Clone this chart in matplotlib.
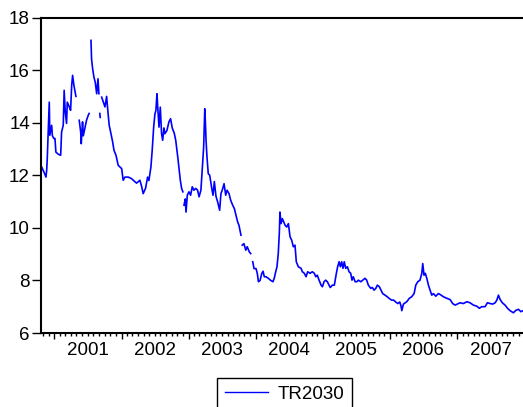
import matplotlib
matplotlib.use("Agg")
import matplotlib.pyplot as plt
import matplotlib.dates as mdates
import numpy as np
import pandas as pd

# TR2030 yield (nan = missing data)
dates = [
    "2000-10-24", "2000-11-05", "2000-11-16", "2000-11-20", "2000-11-23", "2000-12-04",
    "2000-12-07", "2000-12-17", "2000-12-21", "2000-12-29", "2001-01-04", "2001-01-09",
    "2001-01-22", "2001-02-04", "2001-02-09", "2001-02-18", "2001-02-23", "2001-03-01",
    "2001-03-08", "2001-03-12", "2001-03-23", "2001-03-30", "2001-04-05", "2001-04-10",
    "2001-04-17", "2001-04-24", "2001-04-28", "2001-05-08", "2001-05-16", "2001-05-24",
    "2001-05-27", "2001-06-03", "2001-06-07", "2001-06-16", "2001-06-25", "2001-07-04",
    "2001-07-09", "2001-07-14", "2001-07-19", "2001-07-22", "2001-07-28", "2001-08-04",
    "2001-08-11", "2001-08-19", "2001-08-26", "2001-08-31", "2001-09-03", "2001-09-05",
    "2001-09-07", "2001-09-09", "2001-09-15", "2001-09-24", "2001-10-03", "2001-10-12",
    "2001-10-18", "2001-10-26", "2001-11-03", "2001-11-14", "2001-11-21", "2001-12-02",
    "2001-12-14", "2001-12-24", "2002-01-02", "2002-01-10", "2002-01-20", "2002-02-07",
    "2002-02-25", "2002-03-06", "2002-03-24", "2002-04-11", "2002-04-21", "2002-04-29",
    "2002-05-12", "2002-05-23", "2002-05-30", "2002-06-10", "2002-06-17", "2002-06-25",
    "2002-07-02", "2002-07-07", "2002-07-13", "2002-07-17", "2002-07-24", "2002-07-31",
    "2002-08-07", "2002-08-13", "2002-08-20", "2002-08-25", "2002-09-05", "2002-09-16",
    "2002-09-25", "2002-10-04", "2002-10-15", "2002-10-23", "2002-11-03", "2002-11-10",
    "2002-11-17", "2002-11-24", "2002-12-01", "2002-12-04", "2002-12-07", "2002-12-14",
    "2002-12-18", "2002-12-25", "2003-01-03", "2003-01-12", "2003-01-21", "2003-01-30",
    "2003-02-09", "2003-02-19", "2003-02-27", "2003-03-09", "2003-03-16", "2003-03-24",
    "2003-03-30", "2003-04-02", "2003-04-06", "2003-04-11", "2003-04-18", "2003-04-26",
    "2003-05-07", "2003-05-14", "2003-05-21", "2003-05-30", "2003-06-08", "2003-06-19",
    "2003-06-26", "2003-07-03", "2003-07-13", "2003-07-22", "2003-07-29", "2003-08-09",
    "2003-08-18", "2003-08-29", "2003-09-07", "2003-09-16", "2003-09-25", "2003-10-02",
    "2003-10-13", "2003-10-17", "2003-10-20", "2003-10-29", "2003-11-08", "2003-11-16",
    "2003-11-27", "2003-12-05", "2003-12-09", "2003-12-16", "2003-12-23", "2004-01-03",
    "2004-01-10", "2004-01-16", "2004-01-25", "2004-02-03", "2004-02-10", "2004-02-17",
    "2004-02-26", "2004-03-10", "2004-03-23", "2004-04-04", "2004-04-11", "2004-04-19",
    "2004-04-26", "2004-05-03", "2004-05-09", "2004-05-12", "2004-05-18", "2004-05-25",
    "2004-06-02", "2004-06-09", "2004-06-18", "2004-06-27", "2004-07-06", "2004-07-15",
    "2004-07-24", "2004-08-02", "2004-08-09", "2004-08-20", "2004-09-04", "2004-09-11",
    "2004-09-22", "2004-10-01", "2004-10-10", "2004-10-23", "2004-11-04", "2004-11-15",
    "2004-11-23", "2004-12-01", "2004-12-11", "2004-12-22", "2004-12-29", "2005-01-07",
    "2005-01-16", "2005-01-25", "2005-02-03", "2005-02-10", "2005-02-21", "2005-03-04",
    "2005-03-15", "2005-03-22", "2005-03-30", "2005-04-06", "2005-04-13", "2005-04-20",
    "2005-04-27", "2005-05-05", "2005-05-14", "2005-05-23", "2005-06-01", "2005-06-08",
    "2005-06-15", "2005-06-25", "2005-07-04", "2005-07-13", "2005-07-26", "2005-08-06",
    "2005-08-18", "2005-08-27", "2005-09-05", "2005-09-18", "2005-09-27", "2005-10-06",
    "2005-10-15", "2005-10-24", "2005-11-04", "2005-11-13", "2005-11-22", "2005-12-05",
    "2005-12-17", "2005-12-28", "2006-01-10", "2006-01-21", "2006-02-01", "2006-02-12",
    "2006-02-23", "2006-03-02", "2006-03-06", "2006-03-15", "2006-04-02", "2006-04-16",
    "2006-04-29", "2006-05-12", "2006-05-21", "2006-06-01", "2006-06-13", "2006-06-23",
    "2006-06-28", "2006-07-05", "2006-07-12", "2006-07-20", "2006-07-29", "2006-08-07",
    "2006-08-16", "2006-08-25", "2006-09-07", "2006-09-21", "2006-10-06", "2006-10-18",
    "2006-11-06", "2006-11-24", "2006-12-08", "2006-12-21", "2007-01-02", "2007-01-17",
    "2007-02-04", "2007-02-23", "2007-03-12", "2007-03-31", "2007-04-18", "2007-05-02",
    "2007-05-15", "2007-06-02", "2007-06-15", "2007-06-30", "2007-07-14", "2007-07-27",
    "2007-08-05", "2007-08-14", "2007-08-23", "2007-09-04", "2007-09-19", "2007-10-02",
    "2007-10-16", "2007-11-03", "2007-11-18", "2007-12-01", "2007-12-14", "2007-12-26",
]
tr2030 = [
    12.31, 12.12, 11.93, 12.20, 12.63, 14.78,
    13.52, 13.90, 13.50, 13.40, 13.40, 12.88,
    12.80, 12.76, 13.64, 13.90, 15.23, 14.40,
    13.97, 14.78, 14.60, 14.47, 15.42, 15.80,
    15.42, 15.16, 15.00, np.nan, 14.09, 13.64,
    13.20, 14.03, 13.50, 13.80, 14.10, 14.28,
    14.35, np.nan, 17.13, 16.43, 16.05, 15.73,
    15.54, 15.10, 15.67, 15.10, np.nan, 14.35,
    14.20, np.nan, 14.97, 14.78, 14.60, 15.00,
    14.50, 13.90, 13.64, 13.26, 12.95, 12.76,
    12.38, 12.31, 12.25, 11.81, 11.93, 11.93,
    11.87, 11.81, 11.70, 11.81, 11.56, 11.30,
    11.51, 11.93, 11.80, 12.31, 12.95, 13.83,
    14.34, 14.46, 15.10, 14.60, 13.83, 14.59,
    13.58, 13.33, 13.80, 13.58, 13.70, 14.03,
    14.15, 13.80, 13.60, 13.33, 12.70, 12.25,
    11.81, 11.50, 11.37, np.nan, 10.86, 11.10,
    10.60, 11.24, 11.37, 11.24, 11.56, 11.43,
    11.50, 11.43, 11.18, 11.43, 12.19, 13.07,
    14.53, 14.10, 13.33, 12.70, 12.06, 12.00,
    11.50, 11.24, 11.76, 11.20, 10.99, 10.67,
    11.30, 11.43, 11.68, 11.24, 11.43, 11.30,
    11.05, 10.86, 10.73, 10.48, 10.22, 10.10,
    9.72, np.nan, 9.34, 9.40, 9.15, 9.28,
    9.09, 9.02, np.nan, 8.71, 8.45, 8.45,
    8.26, 7.95, 8.00, 8.26, 8.35, 8.14,
    8.14, 8.08, 8.00, 7.95, 8.08, 8.33,
    8.52, 9.03, 9.85, 10.60, 10.16, 10.35,
    10.22, 10.10, 10.03, 10.16, 9.66, 9.53,
    9.28, 9.34, 8.71, 8.52, 8.46, 8.33,
    8.27, 8.14, 8.33, 8.27, 8.33, 8.27,
    8.14, 8.20, 8.01, 7.82, 7.76, 7.95,
    8.01, 7.95, 7.82, 7.73, 7.82, 7.82,
    8.27, 8.52, 8.71, 8.52, 8.71, 8.46,
    8.71, 8.46, 8.52, 8.33, 8.27, 8.01,
    8.14, 7.95, 7.95, 8.01, 7.95, 8.01,
    8.08, 8.01, 7.82, 7.70, 7.73, 7.63,
    7.69, 7.82, 7.76, 7.63, 7.50, 7.44,
    7.38, 7.31, 7.25, 7.25, 7.18, 7.12,
    7.18, 7.02, 6.85, 7.10, 7.19, 7.32,
    7.38, 7.50, 7.82, 7.95, 8.01, 8.27,
    8.64, 8.20, 8.27, 8.08, 7.82, 7.63,
    7.44, 7.50, 7.40, 7.50, 7.44, 7.38,
    7.32, 7.27, 7.12, 7.06, 7.10, 7.15,
    7.12, 7.19, 7.15, 7.06, 7.02, 6.94,
    7.00, 7.00, 7.15, 7.12, 7.10, 7.15,
    7.25, 7.44, 7.27, 7.15, 7.06, 6.94,
    6.85, 6.77, 6.87, 6.90, 6.81, 6.85,
]
year_labels = [2001, 2002, 2003, 2004, 2005, 2006, 2007]
y_ticks = [6, 8, 10, 12, 14, 16, 18]

plt.rcParams['font.family'] = ['Liberation Sans', 'DejaVu Sans']
fs = 13.5

fig = plt.figure(figsize=(5.23, 4.07), dpi=100)
ax = fig.add_axes([41 / 523, 74 / 407, 483.2 / 523, 315.5 / 407])

x = pd.to_datetime(dates)
ax.plot(x, tr2030, color='#0000ff', lw=1.2, label='TR2030')

ax.set_xlim(pd.Timestamp('2000-10-20'), pd.Timestamp('2008-01-01'))
ax.set_ylim(6, 18)
ax.set_yticks(y_ticks)

# yearly major ticks, monthly minor ticks, labels centred in each year
ax.xaxis.set_major_locator(mdates.YearLocator())
ax.xaxis.set_minor_locator(mdates.MonthLocator())
ax.xaxis.set_major_formatter(plt.NullFormatter())
ax.tick_params(axis='x', which='major', length=4.5, width=1.0, direction='out')
ax.tick_params(axis='x', which='minor', length=2.5, width=1.0, direction='out')
ax.tick_params(axis='y', length=6.5, width=1.0, pad=1.5, labelsize=fs)
for yr in year_labels:
    ax.text(pd.Timestamp(f'{yr}-07-02'), -0.055, str(yr), transform=ax.get_xaxis_transform(),
            ha='center', va='center', fontsize=fs)

for side in ['left', 'bottom', 'top']:
    ax.spines[side].set_linewidth(1.5)
ax.spines['right'].set_visible(False)

leg = fig.legend(loc='upper center', bbox_to_anchor=(284.5 / 523, 1 - 378 / 407),
                 frameon=True, fancybox=False, edgecolor='black', framealpha=1,
                 handlelength=2.3, handletextpad=0.5, borderpad=0.4,
                 borderaxespad=0, fontsize=fs)
leg.get_frame().set_linewidth(1.0)
leg.get_lines()[0].set_linewidth(1.0)

fig.savefig('out.png', dpi=100)
plt.close(fig)
